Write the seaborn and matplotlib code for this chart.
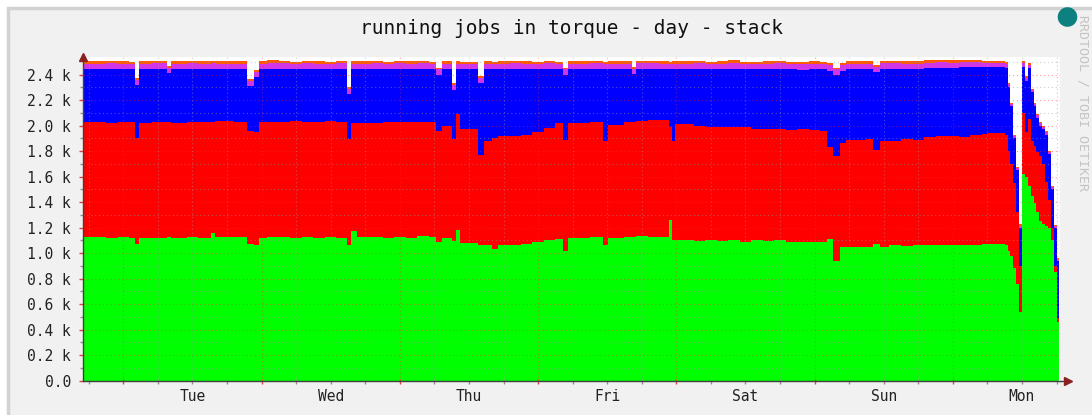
import numpy as np
import matplotlib
matplotlib.use("Agg")
import matplotlib.pyplot as plt
import seaborn as sns
from matplotlib.patches import Rectangle, Circle
from matplotlib.transforms import IdentityTransform

# start of each sample bucket, hours counted from Tue 00:00
hours = [-7, -5, -3, -1, 1, 2, 2.7, 5, 7.5, 8.3,
         11, 13, 15.3, 16, 19, 21.5, 22.6, 23.5, 25, 27,
         29, 31, 33, 35, 37, 38.8, 39.6, 40.5, 43, 45,
         47, 49, 51, 53, 54.3, 55.3, 57, 57.8, 58.4, 61.6,
         62.6, 64, 65, 67, 69, 71, 73, 75, 76.4, 77.2,
         81, 83.3, 84.2, 87, 88.3, 89, 91, 93, 94.8, 95.2,
         95.8, 99, 101, 103, 105, 107, 109, 111, 113, 115,
         117, 119, 121, 122.2, 123.2, 124.4, 125.5, 129, 130.2, 131.4,
         133, 135, 137, 139, 141, 143, 145, 147, 149, 150,
         151, 152,
         153, 153.5, 154, 154.5, 155, 155.5, 156, 156.5, 157, 157.5,
         158, 158.5, 159, 159.5, 160, 160.5, 161, 161.5, 162]
end_hour = 162.5

# stacked layers (jobs)
green = [1130, 1125, 1120, 1130, 1120, 1075, 1115, 1120, 1125, 1120,
         1130, 1120, 1160, 1125, 1125, 1075, 1060, 1120, 1125, 1125,
         1120, 1125, 1120, 1125, 1120, 1060, 1170, 1125, 1125, 1120,
         1130, 1120, 1135, 1125, 1085, 1120, 1095, 1180, 1080, 1065,
         1060, 1030, 1060, 1065, 1070, 1085, 1100, 1110, 1020, 1120,
         1125, 1065, 1120, 1125, 1130, 1135, 1130, 1125, 1260, 1100,
         1100, 1095, 1100, 1095, 1100, 1090, 1100, 1095, 1100, 1090,
         1085, 1090, 1090, 1110, 940, 1050, 1050, 1045, 1075, 1050,
         1060, 1055, 1060, 1060, 1065, 1060, 1065, 1065, 1070, 1070,
         1070, 1075,
         1060, 1020, 975, 880, 760, 540, 1620, 1600, 1530, 1450,
         1390, 1320, 1250, 1230, 1215, 1200, 1100, 850, 460]
red = [900, 900, 900, 900, 905, 825, 905, 910, 900, 900,
       900, 905, 870, 910, 905, 880, 890, 910, 905, 905,
       915, 905, 910, 910, 910, 835, 850, 895, 895, 905,
       900, 905, 895, 900, 875, 880, 800, 910, 895, 705,
       820, 870, 855, 855, 855, 865, 880, 910, 865, 900,
       900, 815, 885, 900, 900, 900, 910, 915, 730, 780,
       910, 905, 890, 890, 890, 900, 875, 880, 870, 875,
       885, 875, 865, 720, 825, 810, 840, 850, 735, 830,
       820, 840, 830, 850, 850, 860, 845, 860, 865, 870,
       875, 870,
       870, 780, 725, 670, 560, 360, 480, 350, 520, 430,
       450, 470, 510, 470, 345, 220, 100, 50, 30]
blue = [410, 415, 425, 410, 415, 420, 420, 415, 385, 420,
        410, 415, 415, 405, 410, 355, 430, 410, 415, 415,
        405, 415, 410, 405, 415, 355, 420, 420, 425, 415,
        410, 415, 415, 415, 440, 440, 385, 350, 465, 560,
        560, 540, 525, 525, 515, 490, 465, 420, 515, 420,
        420, 560, 435, 415, 375, 410, 405, 400, 450, 560,
        430, 445, 450, 455, 455, 450, 465, 465, 475, 475,
        465, 475, 485, 600, 635, 570, 550, 545, 610, 565,
        565, 545, 555, 545, 540, 535, 550, 535, 525, 520,
        515, 515,
        520, 500, 450, 350, 330, 300, 360, 400, 400, 380,
        310, 270, 240, 270, 370, 360, 300, 300, 450]
magenta = [45, 45, 48, 45, 42, 40, 46, 46, 44, 45,
           47, 45, 44, 46, 45, 40, 42, 45, 47, 45,
           44, 46, 45, 44, 45, 40, 45, 46, 45, 44,
           47, 45, 45, 42, 40, 45, 38, 45, 44, 40,
           45, 45, 46, 44, 45, 46, 45, 44, 40, 44,
           45, 42, 45, 46, 40, 44, 45, 46, 44, 45,
           46, 45, 44, 45, 46, 45, 44, 45, 44, 45,
           46, 45, 44, 42, 40, 42, 45, 46, 42, 45,
           44, 45, 40, 38, 40, 38, 35, 35, 32, 32,
           30, 30,
           30, 25, 20, 20, 15, 15, 30, 25, 25, 20,
           20, 20, 20, 20, 20, 15, 15, 15, 10]
orange = [18, 20, 16, 18, 20, 15, 18, 18, 16, 18,
          20, 18, 16, 20, 18, 15, 15, 18, 20, 16,
          18, 18, 20, 16, 15, 15, 18, 20, 18, 16,
          20, 18, 18, 15, 15, 18, 15, 20, 18, 15,
          18, 16, 18, 20, 18, 16, 15, 18, 15, 20,
          18, 15, 18, 20, 15, 18, 20, 18, 16, 18,
          20, 18, 16, 18, 20, 16, 18, 20, 18, 16,
          18, 20, 16, 18, 15, 16, 18, 20, 15, 18,
          18, 20, 18, 20, 18, 20, 18, 20, 18, 18,
          20, 18,
          15, 12, 10, 10, 10, 10, 15, 12, 12, 10,
          10, 10, 10, 10, 10, 8, 8, 8, 8]

day_names = ["Tue", "Wed", "Thu", "Fri", "Sat", "Sun", "Mon"]
y_ticks = list(range(0, 2401, 200))
y_tick_labels = ["0.0", "0.2 k", "0.4 k", "0.6 k", "0.8 k", "1.0 k", "1.2 k",
                 "1.4 k", "1.6 k", "1.8 k", "2.0 k", "2.2 k", "2.4 k"]

layers = [green, red, blue, magenta, orange]
layer_colors = ["#00ff00", "#ff0000", "#0000ff", "#d035e8", "#ff5a00"]
for l in layers:
    assert len(l) == len(hours)

sns.set_theme(style="white")
plt.rcParams["font.family"] = ["DejaVu Sans Mono", "DejaVu Sans"]

W, H = 1092, 415
fig = plt.figure(figsize=(W / 100, H / 100), dpi=100, facecolor="white")

# grey panel like the rrdtool canvas
fig.add_artist(Rectangle((8 / W, -0.01), 1.0, (H - 8) / H + 0.01, transform=fig.transFigure,
                         facecolor="#f1f1f1", edgecolor="#d2d2d2", linewidth=2.5, zorder=-5))

ax = fig.add_axes([83 / W, 1 - 380.7 / H, (1060 - 83) / W, (380.7 - 56.7) / H])
ax.set_facecolor("white")

edges = np.array(hours + [end_hour], dtype=float)
base = np.zeros(len(hours))
for vals, col in zip(layers, layer_colors):
    top = base + np.array(vals, dtype=float)
    ax.stairs(top, edges, baseline=base, fill=True, color=col, linewidth=0, zorder=1)
    base = top

ax.set_xlim(-7, 162.6)
ax.set_ylim(0, 2540)

# grid (rrdtool draws it over the graph)
for v in range(100, 2501, 100):
    if v % 200 == 0:
        ax.axhline(v, color="#ff3030", alpha=0.45, lw=0.8, ls=(0, (1, 2.5)), zorder=3)
    else:
        ax.axhline(v, color="#9a9a9a", alpha=0.5, lw=0.8, ls=(0, (1, 2.5)), zorder=3)
for h in range(-6, 163, 6):
    if h % 24 == 0:
        ax.axvline(h, color="#ff3030", alpha=0.45, lw=0.8, ls=(0, (1, 2.5)), zorder=3)
    else:
        ax.axvline(h, color="#9a9a9a", alpha=0.5, lw=0.8, ls=(0, (1, 2.5)), zorder=3)

# small tick marks on the x axis
xt = ax.get_xaxis_transform()
for h in range(-6, 163, 6):
    c = "#e04040" if h % 24 == 0 else "#909090"
    ax.vlines(h, -0.009, 0.006, transform=xt, colors=c, lw=1, clip_on=False, zorder=5)

ax.set_yticks(y_ticks, labels=y_tick_labels)
ax.set_yticks(list(range(100, 2500, 200)), minor=True)
ax.tick_params(axis="y", which="major", length=3, width=1, color="#e04040",
               labelsize=10.5, labelcolor="#222222", pad=5.5, left=True)
ax.tick_params(axis="y", which="minor", length=2, width=1, color="#909090", left=True)

ax.set_xticks([12 + 24 * i for i in range(len(day_names))], labels=day_names)
ax.tick_params(axis="x", which="major", length=0, labelsize=10.5, labelcolor="#222222", pad=6)

sns.despine(ax=ax)
for s in ["left", "bottom"]:
    ax.spines[s].set_color("#404040")
    ax.spines[s].set_linewidth(1)
    ax.spines[s].set_zorder(6)

# axis arrows
ax.plot([0], [1.0], transform=ax.transAxes, clip_on=False, marker="^",
        markersize=6, color="#8a2020", zorder=7)
ax.plot([1.0, 1.008], [0, 0], transform=ax.transAxes, clip_on=False, color="#404040", lw=1)
ax.plot([1.008], [0], transform=ax.transAxes, clip_on=False, marker=">",
        markersize=6, color="#8a2020", zorder=7)

fig.text(571 / W, 1 - 28 / H, "running jobs in torque - day - stack", ha="center",
         va="center", fontsize=14, color="#111111")
fig.text(1083 / W, 1 - 103 / H, "RRDTOOL / TOBI OETIKER", rotation=270, ha="center",
         va="center", fontsize=9.5, color="#c4c4c4")

fig.add_artist(Circle((1067.5, H - 17), 9.8, transform=IdentityTransform(),
                      facecolor="#0f8080", edgecolor="none", zorder=10))

fig.savefig("out.png", dpi=100)
